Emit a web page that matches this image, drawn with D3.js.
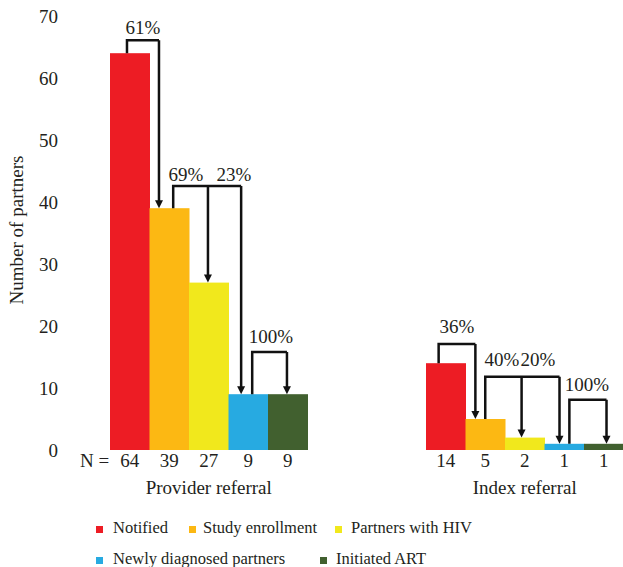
<!DOCTYPE html>
<html><head><meta charset="utf-8"><script src="https://cdn.jsdelivr.net/npm/d3@7"></script>
<style>
  svg text { font-family: "Times New Roman", "Liberation Serif", Tinos !important; }
</style>
</head>
<body style="margin:0">
<svg id="chart" width="623" height="567"></svg>
<script>
// ---- data ----
const stages = ["Notified", "Study enrollment", "Partners with HIV", "Newly diagnosed partners", "Initiated ART"];
const stageColors = ["#ed1c24", "#fcb813", "#f1e81c", "#27aae1", "#41602f"];
const groups = ["Provider referral", "Index referral"];
const providerValues = [64, 39, 27, 9, 9];
const indexValues = [14, 5, 2, 1, 1];
const yTicks = [0, 10, 20, 30, 40, 50, 60, 70];
// flows: from stage -> to stages, with percentage labels
const providerFlows = [
  { from: 0, to: [1], labels: ["61%"] },
  { from: 1, to: [2, 3], labels: ["69%", "23%"] },
  { from: 3, to: [4], labels: ["100%"] }
];
const indexFlows = [
  { from: 0, to: [1], labels: ["36%"] },
  { from: 1, to: [2, 3], labels: ["40%", "20%"] },
  { from: 3, to: [4], labels: ["100%"] }
];

// ---- drawing ----
const TXT = "#231f20";
const svg = d3.select("#chart");
const groupOffset = [0, 8];
const x = d3.scaleBand().domain(d3.range(13)).range([110, 623.5]).padding(0);
const y = d3.scaleLinear().domain([0, 70]).range([450, 16]);
const bw = x.bandwidth();

function txt(sel, size) {
  return sel.attr("font-family", "Times New Roman")
    .style("font-size", size + "px").attr("fill", TXT);
}

// y axis
const yAxis = d3.axisLeft(y).tickValues(yTicks).tickSize(0).tickPadding(3);
const ax = svg.append("g").attr("transform", "translate(61,0)").call(yAxis);
ax.select(".domain").remove();
ax.attr("font-family", "Times New Roman").attr("font-size", 19);
txt(ax.selectAll("text"), 19);

txt(svg.append("text")
  .attr("transform", "translate(23,230) rotate(-90)")
  .attr("text-anchor", "middle"), 19)
  .text("Number of partners");

const allGroups = [providerValues, indexValues];
allGroups.forEach((vals, gi) => {
  const g = svg.append("g");
  g.selectAll("rect").data(vals).join("rect")
    .attr("x", (d, i) => x(groupOffset[gi] + i))
    .attr("width", bw + 0.5)
    .attr("y", d => y(d))
    .attr("height", d => y(0) - y(d))
    .attr("fill", (d, i) => stageColors[i]);
  txt(g.selectAll("text.n").data(vals).join("text")
    .attr("class", "n")
    .attr("x", (d, i) => x(groupOffset[gi] + i) + bw / 2)
    .attr("y", 467)
    .attr("text-anchor", "middle"), 19)
    .text(d => d);
  const gStart = x(groupOffset[gi]);
  const gEnd = x(groupOffset[gi] + 4) + bw;
  txt(svg.append("text")
    .attr("x", (gStart + gEnd) / 2)
    .attr("y", 494)
    .attr("text-anchor", "middle"), 19)
    .text(groups[gi]);
});
txt(svg.append("text").attr("x", 80).attr("y", 467), 19).text("N =");

// annotation layout (pixel offsets within bars, bracket heights in data units)
const flowLayout = [
  [ // provider
    { src: 0.43, tgt: [0.24], top: 66.1, lab: [{ dx: 143, y: 34 }] },
    { src: 0.6, tgt: [0.48, 0.32], top: 42.6, lab: [{ dx: 186, y: 181 }, { dx: 234, y: 181 }] },
    { src: 0.6, tgt: [0.48], top: 15.8, lab: [{ dx: 271, y: 343 }] }
  ],
  [ // index
    { src: 0.32, tgt: [0.25], top: 17.1, lab: [{ dx: 457, y: 333 }] },
    { src: 0.5, tgt: [0.42, 0.38], top: 11.8, lab: [{ dx: 502, y: 366 }, { dx: 538, y: 366 }] },
    { src: 0.63, tgt: [0.57], top: 8.1, lab: [{ dx: 587, y: 391 }] }
  ]
];
const ah = 8, aw = 8;
[providerFlows, indexFlows].forEach((flows, gi) => {
  const vals = allGroups[gi];
  flows.forEach((f, fi) => {
    const L = flowLayout[gi][fi];
    const sx = x(groupOffset[gi] + f.from) + bw * L.src;
    const yt = y(L.top);
    const txs = f.to.map((t, k) => x(groupOffset[gi] + t) + bw * L.tgt[k]);
    const g = svg.append("g");
    let p = `M${sx},${y(vals[f.from])}V${yt}H${d3.max(txs)}`;
    f.to.forEach((t, k) => {
      const tipY = y(vals[t]);
      p += `M${txs[k]},${yt}V${tipY - ah + 1}`;
      g.append("path")
        .attr("d", `M${txs[k] - aw / 2},${tipY - ah}L${txs[k] + aw / 2},${tipY - ah}L${txs[k]},${tipY}Z`)
        .attr("fill", "#111");
    });
    g.append("path").attr("d", p).attr("fill", "none").attr("stroke", "#111").attr("stroke-width", 2.5).attr("stroke-linejoin", "miter");
    f.labels.forEach((lab, k) => {
      txt(g.append("text")
        .attr("x", L.lab[k].dx).attr("y", L.lab[k].y)
        .attr("text-anchor", "middle"), 19)
        .text(lab);
    });
  });
});

// legend
const legendPos = [
  { x: 96, y: 533, tx: 113 }, { x: 189, y: 533, tx: 203 }, { x: 335, y: 533, tx: 351 },
  { x: 96, y: 564, tx: 113 }, { x: 320, y: 564, tx: 336 }
];
const leg = svg.append("g");
stages.forEach((s, i) => {
  const p = legendPos[i];
  leg.append("rect").attr("x", p.x).attr("y", p.y - 7).attr("width", 7).attr("height", 7).attr("fill", stageColors[i]);
  txt(leg.append("text").attr("x", p.tx).attr("y", p.y), 16.5).text(s);
});
</script>
</body>
</html>
